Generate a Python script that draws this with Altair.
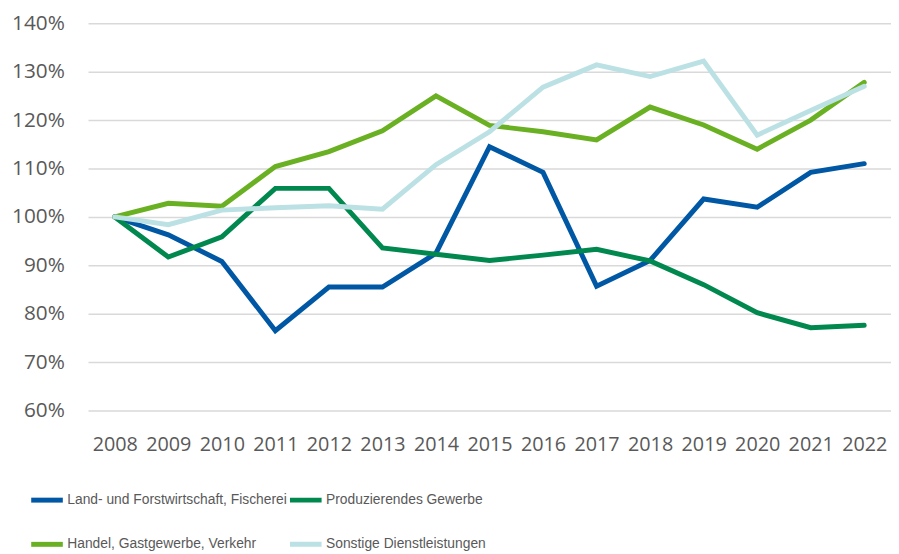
import altair as alt
import pandas as pd

years = [str(y) for y in range(2008, 2023)]
series_names = [
    "Land- und Forstwirtschaft, Fischerei",
    "Produzierendes Gewerbe",
    "Handel, Gastgewerbe, Verkehr",
    "Sonstige Dienstleistungen",
]
land = [100, 96.3, 90.8, 76.5, 85.5, 85.5, 92.5, 114.5, 109.2, 85.7, 91.0, 103.7, 102.0, 109.2, 111.0]
prod = [100, 91.7, 95.9, 105.9, 105.9, 93.6, 92.3, 91.0, 92.1, 93.3, 90.9, 86.0, 80.2, 77.1, 77.6]
handel = [100, 102.8, 102.2, 110.4, 113.5, 117.8, 125.0, 118.9, 117.6, 115.9, 122.7, 119.0, 114.0, 120.0, 127.8]
sonst = [100, 98.4, 101.4, 101.9, 102.3, 101.6, 110.8, 117.6, 126.8, 131.4, 129.0, 132.2, 116.9, 122.0, 127.0]
colors = ["#0057A4", "#00884F", "#6AB023", "#BCE1E4"]

rows = []
for order, (name, vals) in enumerate(zip(series_names, [land, prod, handel, sonst])):
    for y, v in zip(years, vals):
        rows.append({"Jahr": y, "Wert": v, "Reihe": name, "o": order})
df = pd.DataFrame(rows)

# legend fills column by column: reorder so rows read Land|Prod, Handel|Sonstige
legend_order = [series_names[0], series_names[2], series_names[1], series_names[3]]
legend_colors = [colors[0], colors[2], colors[1], colors[3]]

font = "Open Sans"
txt = "#595959"

chart = (
    alt.Chart(df)
    .mark_line(strokeWidth=5, strokeCap="round", strokeJoin="miter")
    .encode(
        x=alt.X(
            "Jahr:N",
            sort=years,
            scale=alt.Scale(type="point", padding=0.5),
            axis=alt.Axis(
                title=None, labelAngle=0, domain=False, ticks=False, grid=False,
                labelFont=font, labelFontSize=20, labelColor=txt, labelPadding=24,
            ),
        ),
        y=alt.Y(
            "Wert:Q",
            scale=alt.Scale(domain=[60, 140], nice=False),
            axis=alt.Axis(
                title=None, values=list(range(60, 141, 10)), labelExpr="datum.value + '%'",
                domain=False, ticks=False, gridColor="#D9D9D9", gridWidth=1.5,
                labelFont=font, labelFontSize=21, labelColor=txt, labelPadding=24,
            ),
        ),
        color=alt.Color(
            "Reihe:N",
            scale=alt.Scale(domain=legend_order, range=legend_colors),
            legend=alt.Legend(
                title=None, orient="none", legendX=-60, legendY=464, columns=2,
                symbolType="stroke", symbolSize=1024, symbolStrokeWidth=5,
                labelFont="Liberation Sans", labelFontSize=14, labelColor=txt,
                labelOffset=2, rowPadding=16, columnPadding=-12, labelLimit=400,
            ),
        ),
        order=alt.Order("o:Q"),
    )
    .properties(width=813, height=392, padding={"left": 81, "top": 12, "right": 0, "bottom": 160},
                autosize=alt.AutoSizeParams(type="none"))
    .configure_view(stroke=None)
)

chart.save("out.html", embed_options={"renderer": "svg", "actions": False})
